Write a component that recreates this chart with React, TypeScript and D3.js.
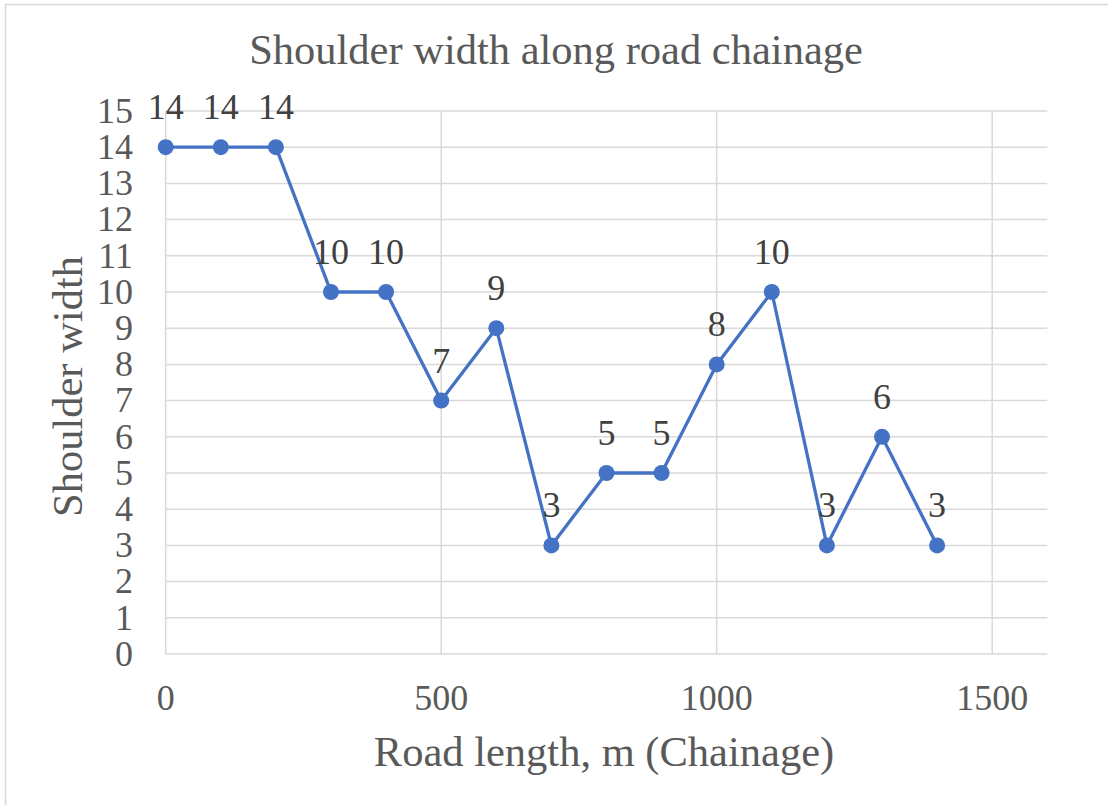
import React from "react";
import * as d3 from "d3";

const chainage = [0, 100, 200, 300, 400, 500, 600, 700, 800, 900, 1000, 1100, 1200, 1300, 1400];
const shoulderWidth = [14, 14, 14, 10, 10, 7, 9, 3, 5, 5, 8, 10, 3, 6, 3];
const xTicks = [0, 500, 1000, 1500];
const yTicks = [0, 1, 2, 3, 4, 5, 6, 7, 8, 9, 10, 11, 12, 13, 14, 15];

const W = 1108;
const H = 805;
const left = 165.7;
const right = 1047.3;
const top = 111;
const bottom = 654;
const FONT = "'Liberation Serif', 'Times New Roman', serif";

export default function App() {
  const x = d3.scaleLinear().domain([0, 1600]).range([left, right]);
  const y = d3.scaleLinear().domain([0, 15]).range([bottom, top]);
  const pts = chainage.map((c, i) => ({ c, v: shoulderWidth[i] }));
  const line = d3
    .line<{ c: number; v: number }>()
    .x((d) => x(d.c))
    .y((d) => y(d.v));

  return (
    <svg
      width={W}
      height={H}
      style={{ position: "absolute", left: 0, top: 0 }}
      fontFamily={FONT}
    >
      <rect x={0} y={0} width={W} height={H} fill="#fff" />
      <rect x={5.5} y={4.5} width={W + 10} height={H + 10} fill="none" stroke="#d9d9d9" strokeWidth={1.5} />
      <text x={556} y={64} textAnchor="middle" fontSize={42.5} fill="#595959">
        Shoulder width along road chainage
      </text>
      {yTicks.map((t) => (
        <line key={"gy" + t} x1={left} x2={right} y1={y(t)} y2={y(t)} stroke="#d9d9d9" strokeWidth={1.5} />
      ))}
      {xTicks.map((t) => (
        <line key={"gx" + t} x1={x(t)} x2={x(t)} y1={top} y2={bottom} stroke="#d9d9d9" strokeWidth={1.5} />
      ))}
      {yTicks.map((t) => (
        <text key={"ty" + t} x={133} y={y(t)} dy="0.33em" textAnchor="end" fontSize={36} fill="#595959">
          {t}
        </text>
      ))}
      {xTicks.map((t) => (
        <text key={"tx" + t} x={x(t)} y={710} textAnchor="middle" fontSize={36} fill="#595959">
          {t}
        </text>
      ))}
      <text x={604} y={766} textAnchor="middle" fontSize={42.5} fill="#595959">
        Road length, m (Chainage)
      </text>
      <text
        transform={`translate(82, ${(top + bottom) / 2 + 4}) rotate(-90)`}
        textAnchor="middle"
        fontSize={42.5}
        fill="#595959"
      >
        Shoulder width
      </text>
      <path d={line(pts) || ""} fill="none" stroke="#4472C4" strokeWidth={3.3} strokeLinejoin="round" />
      {pts.map((p, i) => (
        <circle key={"p" + i} cx={x(p.c)} cy={y(p.v)} r={8} fill="#4472C4" />
      ))}
      {pts.map((p, i) => (
        <text key={"l" + i} x={x(p.c)} y={y(p.v) - 28} textAnchor="middle" fontSize={36} fill="#404040">
          {p.v}
        </text>
      ))}
    </svg>
  );
}
